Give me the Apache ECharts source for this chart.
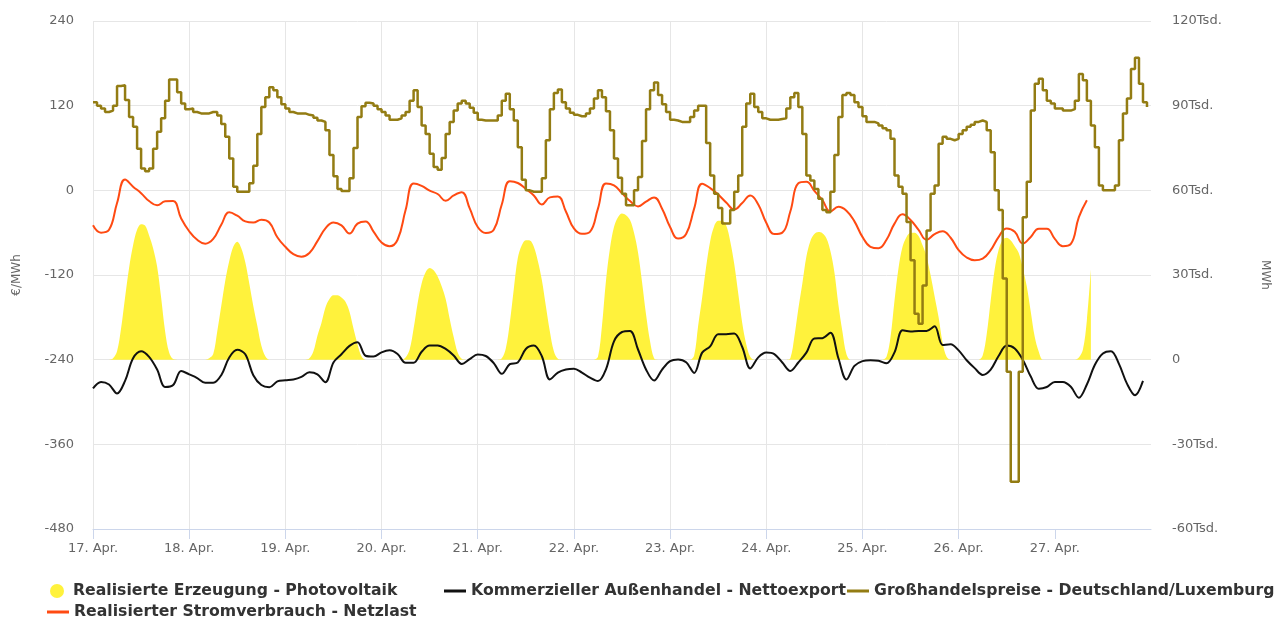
<!DOCTYPE html>
<html><head><meta charset="utf-8">
<script src="https://cdn.jsdelivr.net/npm/echarts@6/dist/echarts.min.js"></script>
<style>html,body{margin:0;padding:0;background:#fff}#c{width:1287px;height:617px}</style>
</head><body><div id="c"></div>
<script>
// x = hours since 17 Apr 00:00
const dayLabels = ['17. Apr.','18. Apr.','19. Apr.','20. Apr.','21. Apr.','22. Apr.','23. Apr.','24. Apr.','25. Apr.','26. Apr.','27. Apr.'];

const seriesNames = {
  pv: 'Realisierte Erzeugung - Photovoltaik',
  exp: 'Kommerzieller Außenhandel - Nettoexport',
  price: 'Großhandelspreise - Deutschland/Luxemburg',
  load: 'Realisierter Stromverbrauch - Netzlast'
};

// Wholesale price €/MWh, hourly, one array per day
const priceByDay = [
  [125,120,116,111,113,120,148,149,128,104,90,59,31,27,31,59,83,102,127,157,157,139,123,115],
  [116,111,109,109,109,111,111,106,94,76,45,5,-2,-2,-2,10,35,80,118,132,146,142,132,122],
  [116,111,109,109,109,107,106,103,99,97,85,50,20,2,-1,-1,17,60,104,119,124,123,120,115],
  [111,106,100,100,102,106,111,127,142,118,92,80,52,33,29,46,80,97,113,123,127,123,117,110],
  [100,99,99,99,99,106,127,137,115,99,61,15,0,-2,-2,-2,17,71,115,138,143,125,116,110],
  [107,105,105,109,116,130,142,132,112,85,45,18,-5,-21,-21,0,19,70,115,142,153,135,122,111],
  [100,99,97,97,97,104,113,120,120,67,21,-5,-25,-47,-47,-28,-2,21,90,123,137,118,111,102],
  [100,100,100,101,102,116,132,138,118,80,21,14,2,-12,-28,-31,-2,50,104,135,138,135,125,118],
  [105,97,97,95,92,88,85,73,21,5,-5,-45,-99,-175,-189,-135,-57,-5,7,66,76,73,71,73],
  [80,85,90,93,97,99,97,85,54,0,-28,-125,-257,-413,-413,-257,-38,12,113,151,158,142,127,123],
  [116,116,113,113,115,127,165,156,127,92,61,7,0,0,0,7,71,109,130,172,188,151,125,118]
];

// PV generation, thousand MWh, hourly, one array per day
const pvByDay = [
  [0,0,0,0,0,0.5,3,11,22,32.5,40.5,46,48,47.5,44,39.5,33,22,10,2.5,0.2,0,0,0],
  [0,0,0,0,0,0.5,2,10,19,28,35,40,41.8,39.5,34.5,27,19,12,5,1.2,0,0,0,0],
  [0,0,0,0,0,0,0.5,3,8.5,13,18.5,21.5,22.8,22.8,22,20.5,17,11,5.5,1.2,0,0,0,0],
  [0,0,0,0,0,0,0.8,3.5,11,20,27,31,32.5,31.7,29.5,26,21.5,14.5,8,2.5,0.3,0,0,0],
  [0,0,0,0,0,0,0.5,4,13,25,36,40.5,42.3,42.2,40,35,28.2,19,10,3,0.3,0,0,0],
  [0,0,0,0,0,0,1,12,28,39.5,47,50.5,51.8,51.2,49.5,45,38,27.5,16,6.5,0.5,0,0,0],
  [0,0,0,0,0,0,1.5,12,22,33,42,47.3,49.2,49.2,47.5,42,34,23.5,13,5.5,1,0,0,0],
  [0,0,0,0,0,0,0.5,8,18,27,36.5,42,44.5,45.2,44.8,43,38.5,31,19.5,10,2,0,0,0],
  [0,0,0,0,0,0,1,8,21,32.5,40,43.5,45,45,43.8,40.5,36.5,30,22.5,15,6,1,0,0],
  [0,0,0,0,0,0,1.5,9,21,32,39,42.5,43.2,42.2,40.2,37.8,32.5,26,17,8,2.8,0,0,0],
  [0,0,0,0,0,0,0.8,3.5,14,32]
];

// Load (Netzlast), thousand MWh, every 2 hours from 17 Apr 00:00
const loadValues = [
  47.6,45.0,46,55.5,63.8,61.3,59,56.2,54.7,56.1,56.2,50,
  45.5,42.5,41.1,42.8,47.8,52.2,51,49,48.6,49.6,48.6,43.4,
  40,37.4,36.5,37.8,42,46.5,48.6,47.6,44.7,48.2,49,45.4,
  41.5,40.2,42.5,53,62.4,61.6,59.9,58.7,56.3,58.2,59.3,53.6,
  47,44.9,46,55,63.2,62.6,60.5,58.2,55,57.5,57.8,52.5,
  46.5,44.6,45.3,53.5,62.4,61.8,59,56.2,54.3,56,57.5,53.5,
  47,42.9,44.5,53.5,62.3,60.8,58.5,55.7,53.2,55.5,58.2,55,
  48.5,44.5,45,52.5,62.5,63,59.8,56.5,52.5,54.2,52.8,49,
  43.5,40,39.5,42.5,48.2,51.5,49.5,46,42.5,44.5,45.5,43.2,
  38.8,36.2,35.2,35.8,38.8,43.5,46.5,45.3,41.2,43.5,46.4,46.4,
  42.8,40.2,41,50.5,56.5
];

// Net export, thousand MWh, every 2 hours from 17 Apr 00:00
const exportValues = [
  -10.2,-7.9,-8.8,-12.0,-7.5,0.5,3.0,1.0,-3.5,-9.7,-9.0,-4.0,
  -5.2,-6.5,-8.2,-8.2,-5.5,0.8,3.5,1.9,-5.5,-9.0,-9.8,-7.7,
  -7.3,-7.0,-6.1,-4.5,-5.2,-8.0,-1.0,1.9,4.9,6.2,1.4,1.1,
  2.6,3.3,2.0,-1.1,-1.1,2.8,5.0,5.0,3.8,1.5,-1.5,0.2,
  1.8,1.3,-1.2,-5.0,-1.6,-1.0,3.8,5.0,1.2,-7.0,-4.6,-3.5,
  -3.2,-4.6,-6.4,-7.6,-3.4,6.5,9.8,10.2,3.6,-3.5,-7.4,-3.5,
  -0.5,0.1,-0.9,-4.7,2.5,4.7,9.0,9.0,9.3,4.5,-3.1,0.8,
  2.5,2.0,-1.0,-4.0,-1.0,2.5,7.5,7.6,9.5,0.5,-7.0,-2.2,
  -0.5,-0.2,-0.4,-1.3,2.6,10.4,10.0,10.2,10.2,11.8,5.2,5.5,
  3.3,-0.2,-3.0,-5.4,-3.5,1.4,5.0,4.0,0,-6.0,-10.3,-9.7,
  -7.9,-7.9,-9.6,-13.5,-8.8,-1.8,2.2,3.0,-1.5,-8.5,-12.6,-7.5
];

const dayTicks = dayLabels.map((_, i) => i * 24);

const priceData = [];
priceByDay.forEach((d, i) => d.forEach((v, h) => priceData.push([i * 24 + h, v])));
const pvData = [];
pvByDay.forEach((d, i) => d.forEach((v, h) => pvData.push([i * 24 + h, v])));
const loadData = loadValues.map((v, i) => [i * 2, v]);
const exportData = exportValues.map((v, i) => [i * 2, v]);

const FONT = 'DejaVu Sans';
const legendText = {fontFamily: FONT, fontSize: 15.7, fontWeight: 'bold', color: '#333'};

const chart = echarts.init(document.getElementById('c'), null, {renderer: 'canvas', width: 1287, height: 617});
chart.setOption({
  animation: false,
  backgroundColor: '#fff',
  textStyle: {fontFamily: FONT},
  grid: {left: 93, right: 136, top: 21, bottom: 88, containLabel: false},
  xAxis: {
    type: 'value', min: 0, max: 264, interval: 24,
    axisLine: {show: true, onZero: false, lineStyle: {color: '#ccd6eb', width: 1}},
    axisTick: {show: true, length: 10, customValues: dayTicks, lineStyle: {color: '#ccd6eb'}},
    axisLabel: {customValues: dayTicks, formatter: v => dayLabels[Math.round(v / 24)] || '', color: '#666', fontSize: 13, margin: 13},
    splitLine: {show: true, showMaxLine: false, lineStyle: {color: '#e6e6e6', width: 1}}
  },
  yAxis: [
    {
      type: 'value', min: -480, max: 240, interval: 120, position: 'left',
      name: '€/MWh', nameLocation: 'middle', nameGap: 70,
      nameTextStyle: {color: '#666', fontSize: 12, fontFamily: FONT},
      axisLine: {show: false}, axisTick: {show: false},
      axisLabel: {color: '#666', fontSize: 13, margin: 19},
      splitLine: {show: true, lineStyle: {color: '#e6e6e6', width: 1}}
    },
    {
      type: 'value', min: -60, max: 120, interval: 30, position: 'right',
      name: 'MWh', nameLocation: 'middle', nameGap: 108, nameRotate: -90,
      nameTextStyle: {color: '#666', fontSize: 12, fontFamily: FONT},
      axisLine: {show: false}, axisTick: {show: false},
      axisLabel: {color: '#666', fontSize: 13, margin: 21, formatter: v => v === 0 ? '0' : v + 'Tsd.'},
      splitLine: {show: false}
    }
  ],
  legend: [
    {data: [{name: seriesNames.pv, icon: 'circle'}], left: 50, top: 583, padding: 0, itemWidth: 14, itemHeight: 14, textStyle: Object.assign({padding: [0, 0, 0, 4]}, legendText), selectedMode: false},
    {data: [{name: seriesNames.exp, icon: 'rect'}], left: 444, top: 583, padding: 0, itemWidth: 22, itemHeight: 3, textStyle: legendText, selectedMode: false},
    {data: [{name: seriesNames.price, icon: 'rect'}], left: 847, top: 583, padding: 0, itemWidth: 22, itemHeight: 3, textStyle: legendText, selectedMode: false},
    {data: [{name: seriesNames.load, icon: 'rect'}], left: 47, top: 604, padding: 0, itemWidth: 22, itemHeight: 3, textStyle: legendText, selectedMode: false}
  ],
  series: [
    {
      name: seriesNames.pv, type: 'line', yAxisIndex: 1, data: pvData, smooth: 0.35,
      symbol: 'none', lineStyle: {width: 0, color: '#fff23c'}, itemStyle: {color: '#fff23c'},
      areaStyle: {color: '#fff23c', opacity: 1}, z: 1
    },
    {
      name: seriesNames.load, type: 'line', yAxisIndex: 1, data: loadData, smooth: 0.45,
      symbol: 'none', lineStyle: {width: 2, color: '#ff4a12'}, itemStyle: {color: '#ff4a12'}, z: 2
    },
    {
      name: seriesNames.exp, type: 'line', yAxisIndex: 1, data: exportData, smooth: 0.35,
      symbol: 'none', lineStyle: {width: 2, color: '#111111'}, itemStyle: {color: '#111111'}, z: 3
    },
    {
      name: seriesNames.price, type: 'line', yAxisIndex: 0, data: priceData, step: 'end',
      symbol: 'none', lineStyle: {width: 2.5, color: '#937c13'}, itemStyle: {color: '#937c13'}, z: 4
    }
  ]
});
</script>
</body></html>
